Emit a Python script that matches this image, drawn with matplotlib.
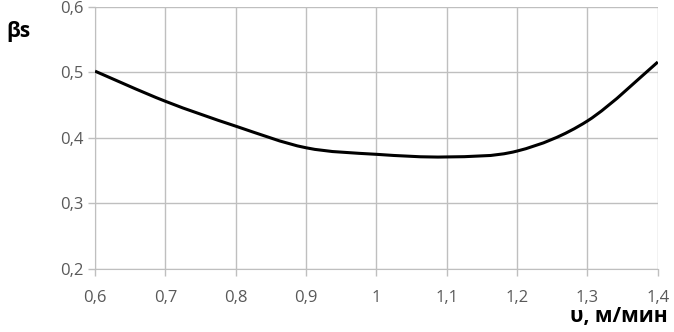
import matplotlib.pyplot as plt
from matplotlib.path import Path
from matplotlib.patches import PathPatch

plt.rcParams['font.family'] = ['Open Sans', 'DejaVu Sans']

# speed, m/min and beta_s
speed = [0.6, 0.7, 0.8, 0.9, 1.0, 1.1, 1.2, 1.3, 1.4]
beta_s = [0.502, 0.456, 0.418, 0.385, 0.375, 0.371, 0.380, 0.426, 0.516]

x_ticks = [0.6, 0.7, 0.8, 0.9, 1.0, 1.1, 1.2, 1.3, 1.4]
x_labels = ['0,6', '0,7', '0,8', '0,9', '1', '1,1', '1,2', '1,3', '1,4']
y_ticks = [0.2, 0.3, 0.4, 0.5, 0.6]
y_labels = ['0,2', '0,3', '0,4', '0,5', '0,6']

fig = plt.figure(figsize=(6.74, 3.32), dpi=100)
ax = fig.add_axes([0.141, 0.19, 0.835, 0.789])

# smoothed line like Excel (Catmull-Rom -> cubic bezier)
verts = [(speed[0], beta_s[0])]
codes = [Path.MOVETO]
n = len(speed)
for i in range(n - 1):
    p0 = (speed[max(i - 1, 0)], beta_s[max(i - 1, 0)])
    p1 = (speed[i], beta_s[i])
    p2 = (speed[i + 1], beta_s[i + 1])
    p3 = (speed[min(i + 2, n - 1)], beta_s[min(i + 2, n - 1)])
    c1 = (p1[0] + (p2[0] - p0[0]) / 6, p1[1] + (p2[1] - p0[1]) / 6)
    c2 = (p2[0] - (p3[0] - p1[0]) / 6, p2[1] - (p3[1] - p1[1]) / 6)
    verts += [c1, c2, p2]
    codes += [Path.CURVE4] * 3
ax.add_patch(PathPatch(Path(verts, codes), facecolor='none', edgecolor='black', lw=2.2, zorder=3))

ax.set_xlim(0.6, 1.4)
ax.set_ylim(0.2, 0.6)
ax.set_xticks(x_ticks)
ax.set_xticklabels(x_labels)
ax.set_yticks(y_ticks)
ax.set_yticklabels(y_labels)
ax.grid(True, color='#bfbfbf', lw=1)
ax.set_axisbelow(True)
for s in ['top', 'right']:
    ax.spines[s].set_visible(False)
for s in ['left', 'bottom']:
    ax.spines[s].set_color('#bfbfbf')
ax.tick_params(axis='both', colors='#bfbfbf', labelcolor='#595959', labelsize=12, length=5, width=1)
ax.tick_params(axis='x', pad=10)

fig.text(0.01, 0.905, 'βs', fontsize=15, fontweight='bold', ha='left', va='center')
fig.text(0.99, 0.015, 'υ, м/мин', fontsize=15, fontweight='bold', ha='right', va='bottom')

plt.savefig('out.png', dpi=100)
